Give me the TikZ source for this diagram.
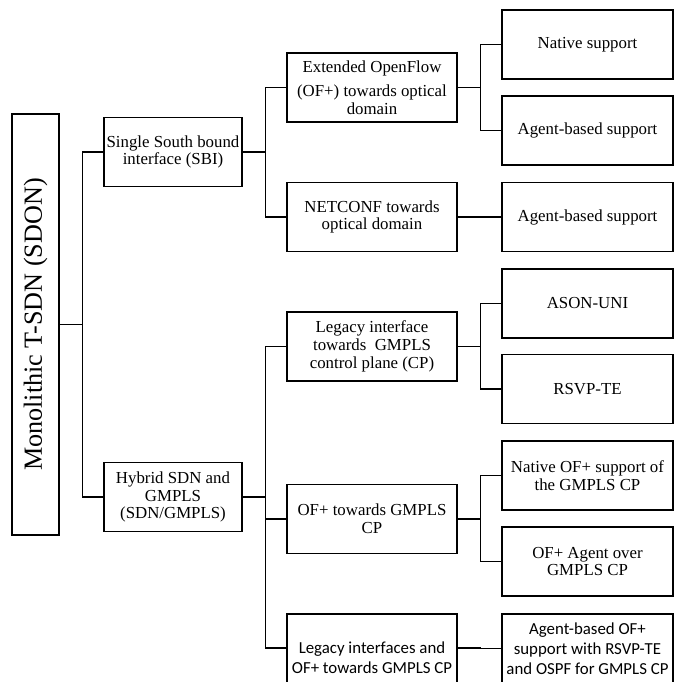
\documentclass[tikz,border=0pt]{standalone}
\usepackage{fontspec}
\setmainfont{Liberation Serif}
\newfontfamily\calibri{Carlito}
\usepackage{tikz}

\begin{document}
\begin{tikzpicture}
		[x = 0.6pt, y = -0.6pt,
		 line width = 0.7pt,
		 box/.style = {draw, align = center, inner sep = 1pt, font = \fontsize{10.1pt}{10.7pt}\selectfont},
		 lvl1/.style = {box, minimum width = 82.8pt, minimum height = 41.4pt},
		 lvl2/.style = {box, minimum width = 102pt, minimum height = 41.4pt},
		 lvl3/.style = {box, minimum width = 102.6pt, minimum height = 41.4pt},
		 calib/.style = {font = \calibri\fontsize{10.1pt}{12pt}\selectfont},
		 fork/.style = {to path = {-- ++(23,0) |- (\tikztotarget)}}]
			\useasboundingbox (0,0) rectangle (681,682);
			\clip (0,0) rectangle (681,682);
			\node [box, rotate = 90, minimum width = 252.6pt, minimum height = 28.2pt,
				font = \fontsize{15.7pt}{18pt}\selectfont] (root) at (35.5,324.5) {Monolithic T-SDN (SDON)};
			\node [lvl1] (sbi) at (173,152) {Single South bound\\interface (SBI)};
			\node [lvl1] (hyb) at (173,497) {Hybrid SDN and\\GMPLS\\(SDN/GMPLS)};
			\node [lvl2] (ext) at (372,87.5) {Extended OpenFlow\\[3.6pt](OF+) towards optical\\domain};
			\node [lvl2] (netc) at (372,217) {NETCONF towards\\optical domain};
			\node [lvl2] (leg) at (372,346.5) {Legacy interface\\towards\ \ GMPLS\\control plane (CP)};
			\node [lvl2] (ofg) at (372,519) {OF+ towards GMPLS\\CP};
			\node [lvl2, calib, minimum height = 52.8pt] (leg2) at (372,658) {Legacy interfaces and\\OF+ towards GMPLS CP};
			\node [lvl3] (nat) at (587.5,44.5) {Native support};
			\node [lvl3] (agt) at (587.5,130.5) {Agent-based support};
			\node [lvl3] (agtb) at (587.5,217) {Agent-based support};
			\node [lvl3] (ason) at (587.5,303.5) {ASON-UNI};
			\node [lvl3] (rsvp) at (587.5,389) {RSVP-TE};
			\node [lvl3] (natof) at (587.5,475.5) {Native OF+ support of\\the GMPLS CP};
			\node [lvl3] (ofag) at (587.5,561.5) {OF+ Agent over\\GMPLS CP};
			\node [lvl3, calib] (agent) at (587.5,648.5) {Agent-based OF+\\support with RSVP-TE\\and OSPF for GMPLS CP};
			\foreach \a/\b in {root.south/sbi, root.south/hyb, sbi.east/ext, sbi.east/netc,
				hyb.east/leg, hyb.east/ofg, ext.east/nat, ext.east/agt, netc.east/agtb,
				leg.east/ason, leg.east/rsvp, ofg.east/natof, ofg.east/ofag}
				\draw (\a) to[fork] (\b.west);
			\draw (hyb.east) to[fork] ([yshift = 6pt]leg2.west);
			\draw ([yshift = 6pt]leg2.east) to[fork] (agent.west);
	\end{tikzpicture}
\end{document}
